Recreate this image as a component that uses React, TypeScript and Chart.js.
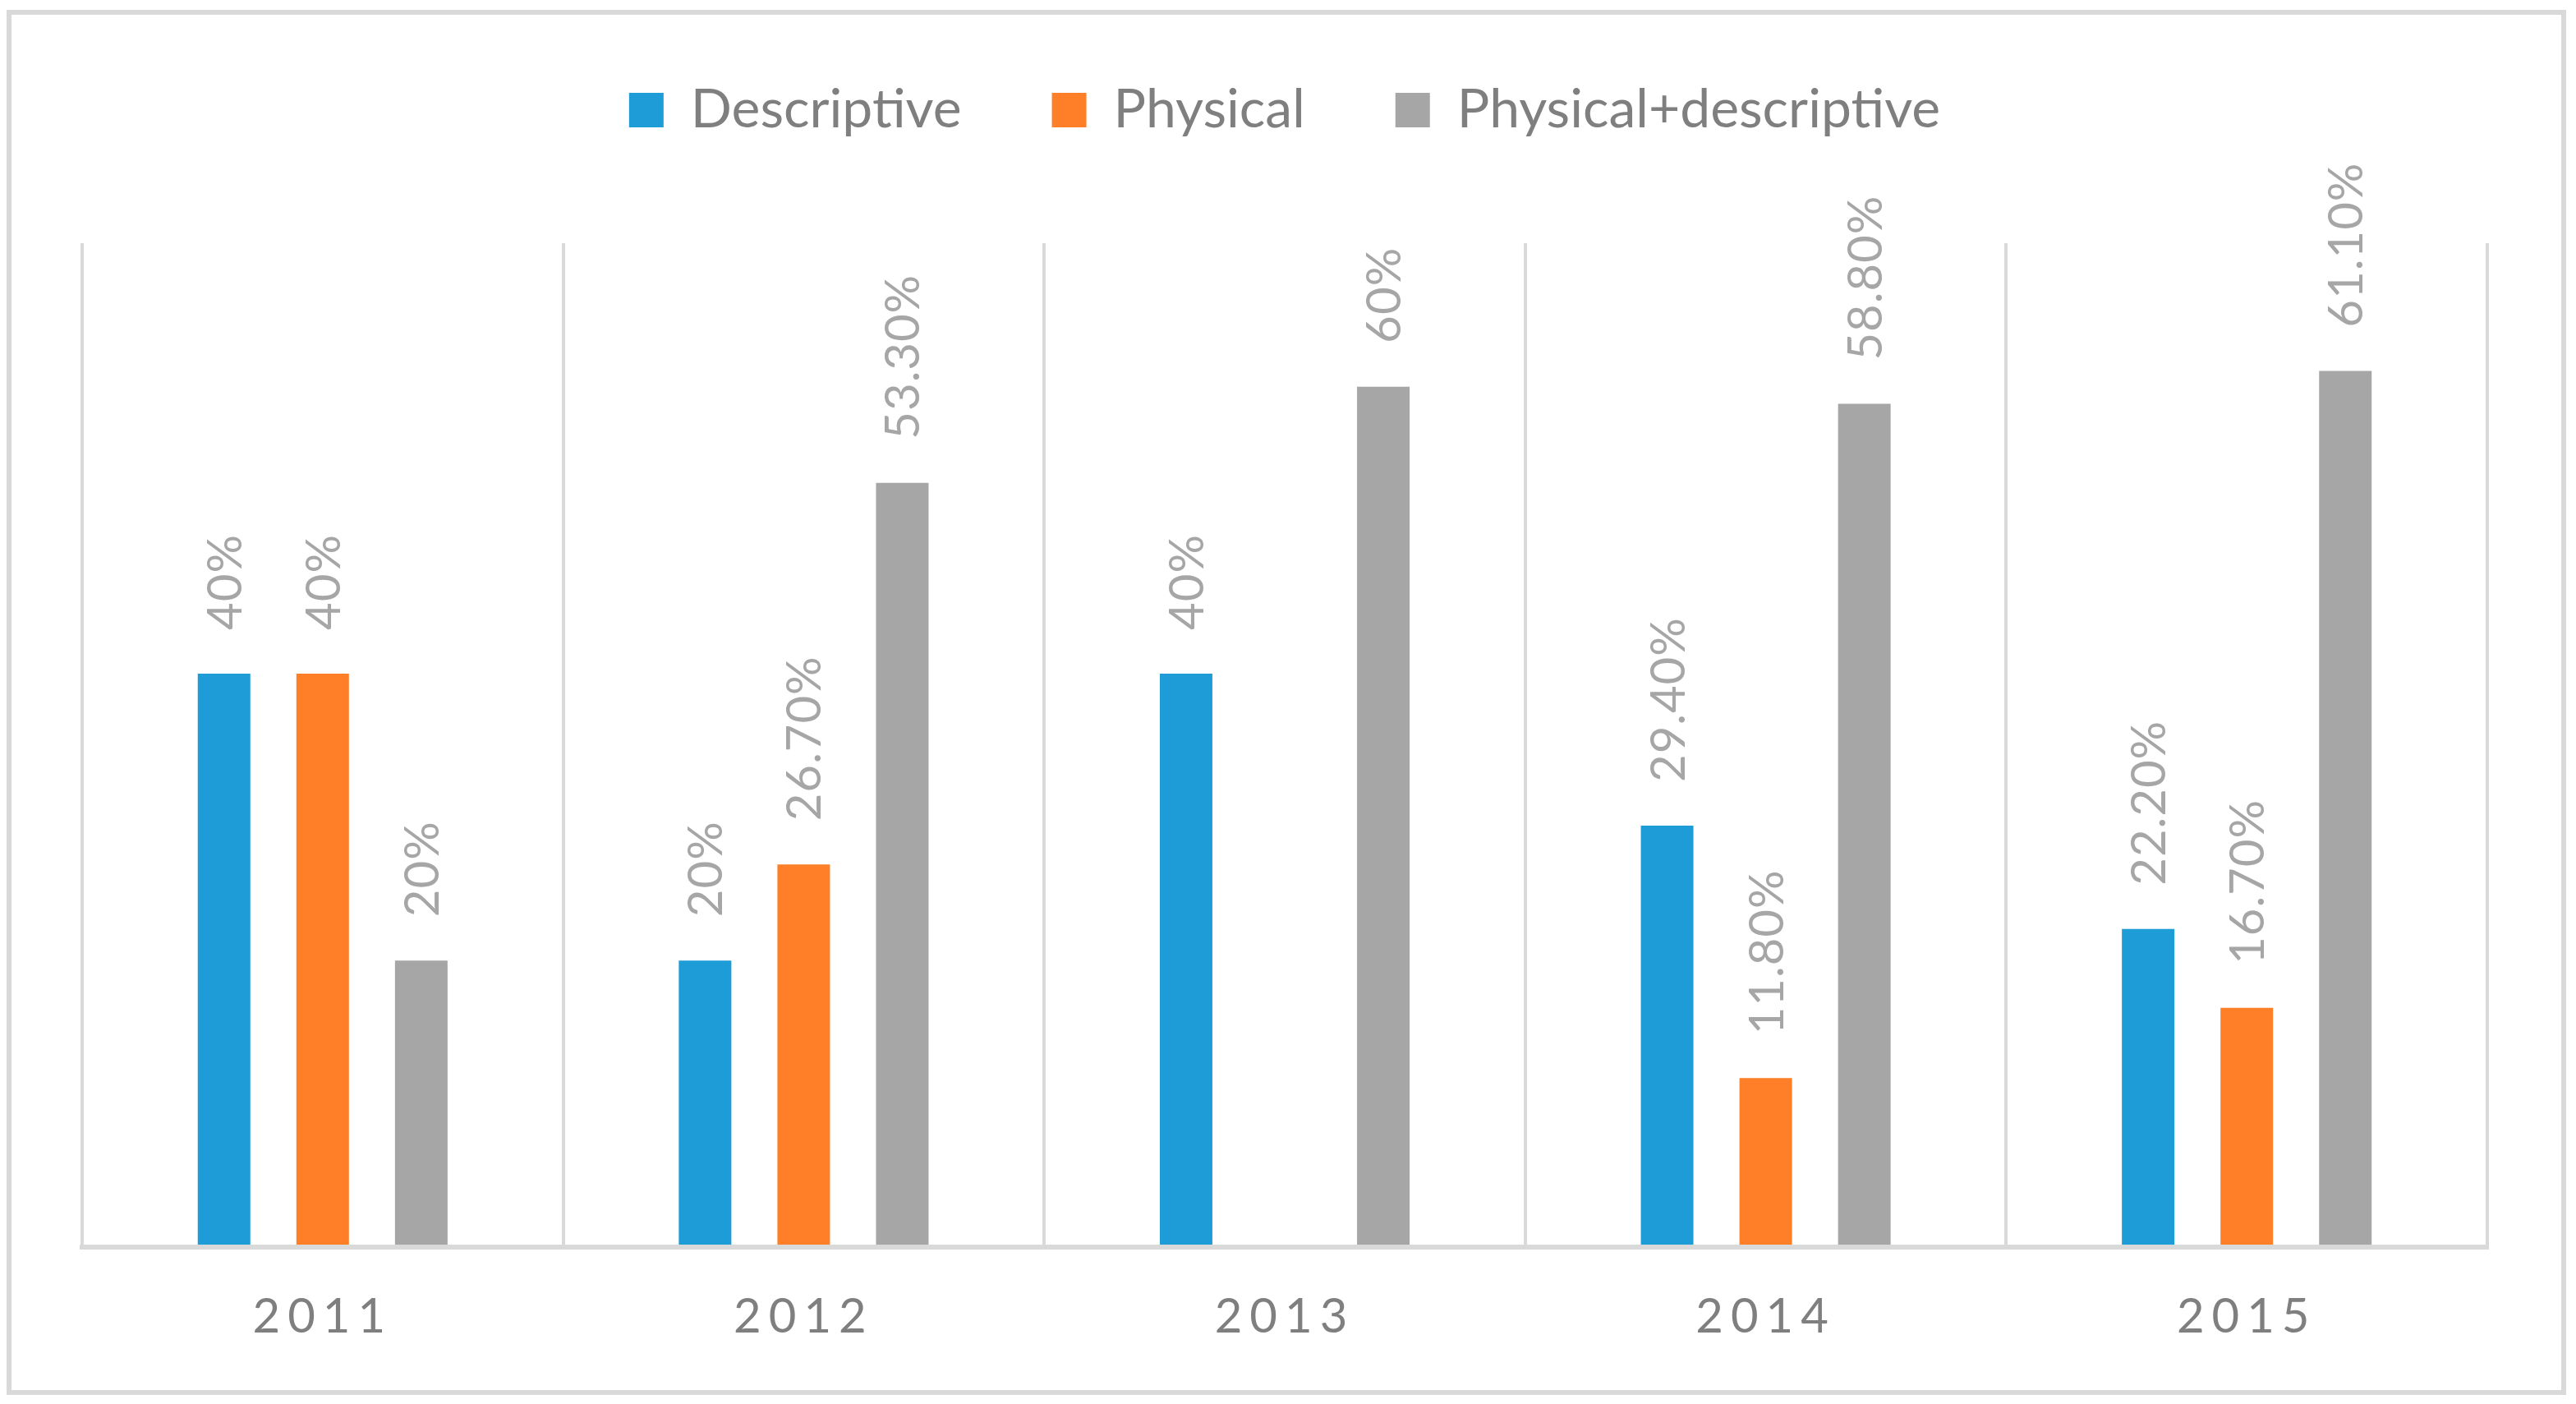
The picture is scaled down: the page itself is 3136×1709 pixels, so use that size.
import React, { useEffect, useRef } from 'react';
import { Chart, registerables, ChartConfiguration, Plugin } from 'chart.js';

Chart.register(...registerables);

const years = ['2011', '2012', '2013', '2014', '2015'];
const descriptive = [40, 20, 40, 29.4, 22.2];
const physical = [40, 26.7, null, 11.8, 16.7];
const physicalDescriptive = [20, 53.3, 60, 58.8, 61.1];

const seriesNames = ['Descriptive', 'Physical', 'Physical+descriptive'];
const seriesColors = ['#1e9cd7', '#fe7f28', '#a6a6a6'];

const formatPercent = (v: number) => (Number.isInteger(v) ? `${v}%` : `${v.toFixed(2)}%`);

// pushes the plot down below the legend
const legendGap: Plugin = {
    id: 'legendGap',
    beforeInit(chart: any) {
        const originalFit = chart.legend.fit;
        chart.legend.fit = function fit() {
            originalFit.bind(chart.legend)();
            this.height += 119;
        };
    },
};

// rotated value labels above each bar
const barValueLabels: Plugin = {
    id: 'barValueLabels',
    afterDatasetsDraw(chart) {
        const ctx = chart.ctx;
        chart.data.datasets.forEach((ds, i) => {
            const meta = chart.getDatasetMeta(i);
            meta.data.forEach((bar: any, j) => {
                const v = ds.data[j] as number | null;
                if (v == null) return;
                ctx.save();
                ctx.translate(bar.x, bar.y - 53);
                ctx.rotate(-Math.PI / 2);
                ctx.font = '58px Lato';
                ctx.letterSpacing = '1px';
                ctx.fillStyle = '#a6a6a6';
                ctx.textAlign = 'left';
                ctx.textBaseline = 'alphabetic';
                ctx.fillText(formatPercent(v), 0, 21);
                ctx.restore();
            });
        });
        // the x tick labels are drawn after this (ticks.z = 1), spaced out
        (ctx as any).letterSpacing = '9px';
    },
    afterDraw(chart) {
        (chart.ctx as any).letterSpacing = '0px';
    },
};

const BarChart: React.FC = () => {
    const canvasRef = useRef<HTMLCanvasElement>(null);
    const chartRef = useRef<Chart>();

    useEffect(() => {
        if (!canvasRef.current) return;
        const ctx = canvasRef.current.getContext('2d');
        if (!ctx) return;
        if (chartRef.current) chartRef.current.destroy();

        Chart.defaults.font.family = 'Lato';

        const data = [descriptive, physical, physicalDescriptive];

        const config: ChartConfiguration = {
            type: 'bar',
            data: {
                labels: years,
                datasets: seriesNames.map((name, i) => ({
                    label: name,
                    data: data[i],
                    backgroundColor: seriesColors[i],
                    borderWidth: 0,
                    categoryPercentage: 0.615,
                    barPercentage: 0.533,
                })),
            },
            options: {
                animation: false,
                responsive: true,
                maintainAspectRatio: false,
                layout: {
                    padding: { top: -27, left: 86, right: 90, bottom: 4 },
                },
                plugins: {
                    legend: {
                        position: 'top',
                        labels: {
                            boxWidth: 42,
                            boxHeight: 42,
                            padding: 110,
                            color: '#7f7f7f',
                            font: { size: 66 },
                        },
                    },
                    tooltip: { enabled: false },
                },
                scales: {
                    x: {
                        grid: {
                            display: true,
                            offset: true,
                            color: '#d9d9d9',
                            lineWidth: 4,
                            drawTicks: false,
                        },
                        border: { display: true, color: '#d9d9d9', width: 6, z: 1 },
                        ticks: {
                            z: 1,
                            color: '#7f7f7f',
                            font: { size: 58 },
                            padding: 50,
                            maxRotation: 0,
                            autoSkip: false,
                        },
                    },
                    y: {
                        display: false,
                        min: 0,
                        max: 70,
                    },
                },
            },
            plugins: [legendGap, barValueLabels],
        };

        chartRef.current = new Chart(ctx, config);

        return () => {
            if (chartRef.current) {
                chartRef.current.destroy();
                chartRef.current = undefined;
            }
        };
    }, []);

    return (
        <div style={{ paddingTop: 4 }}>
            <div
                style={{
                    boxSizing: 'border-box',
                    width: 3116,
                    height: 1686,
                    border: '6px solid #d9d9d9',
                    background: '#fff',
                }}
            >
                <div style={{ position: 'relative', width: 3104, height: 1674 }}>
                    <canvas ref={canvasRef} />
                </div>
            </div>
        </div>
    );
};

export default function App() {
    return <BarChart />;
}
